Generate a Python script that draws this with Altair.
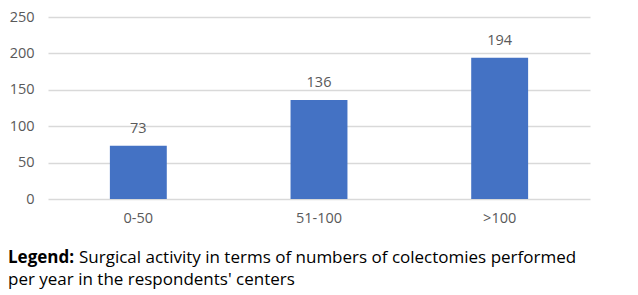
import altair as alt
import pandas as pd

categories = ["0-50", "51-100", ">100"]
values = [73, 136, 194]
y_ticks = [0, 50, 100, 150, 200, 250]
caption_bold = "Legend:"
caption_line1 = "Surgical activity in terms of numbers of colectomies performed"
caption_line2 = "per year in the respondents' centers"

df = pd.DataFrame({"cat": categories, "val": values})

FONT = "Open Sans"
GREY = "#595959"

x_enc = alt.X("cat:N", sort=categories, title=None,
              scale=alt.Scale(paddingInner=0.685, paddingOuter=0.3425),
              axis=alt.Axis(labelAngle=0, labelFontSize=14.5, labelColor=GREY, labelFont=FONT,
                            ticks=False, domain=False, labelPadding=12, grid=False))
y_enc = alt.Y("val:Q", title=None,
              scale=alt.Scale(domain=[0, 250], nice=False),
              axis=alt.Axis(values=y_ticks, labelFontSize=14.5, labelColor=GREY, labelFont=FONT,
                            ticks=False, domain=False, labelPadding=14, labelOverlap=False,
                            gridColor="#D9D9D9", gridWidth=1.3))

base = alt.Chart(df).encode(x=x_enc, y=y_enc)

bars = base.mark_bar(color="#4472C4")

labels = base.mark_text(dy=-13, baseline="alphabetic", fontSize=14.5, color=GREY, font=FONT).encode(
    text="val:Q",
)

CAP = 17
cap_bold = alt.Chart(pd.DataFrame({"t": [caption_bold]})).mark_text(
    align="left", baseline="alphabetic", fontSize=CAP, fontWeight="bold", font=FONT, color="black"
).encode(x=alt.value(-40), y=alt.value(246), text="t:N")

cap1 = alt.Chart(pd.DataFrame({"t": [caption_line1]})).mark_text(
    align="left", baseline="alphabetic", fontSize=CAP, font=FONT, color="black"
).encode(x=alt.value(31), y=alt.value(246), text="t:N")

cap2 = alt.Chart(pd.DataFrame({"t": [caption_line2]})).mark_text(
    align="left", baseline="alphabetic", fontSize=CAP, font=FONT, color="black"
).encode(x=alt.value(-40), y=alt.value(267.5), text="t:N")

chart = alt.layer(bars, labels, cap_bold, cap1, cap2).properties(
    width=542, height=182,
    autosize=alt.AutoSizeParams(type="none"),
    padding={"left": 40, "top": 9, "right": 40, "bottom": 91},
).configure_view(stroke=None)

chart.save("out.html", embed_options={"renderer": "svg", "actions": False})
